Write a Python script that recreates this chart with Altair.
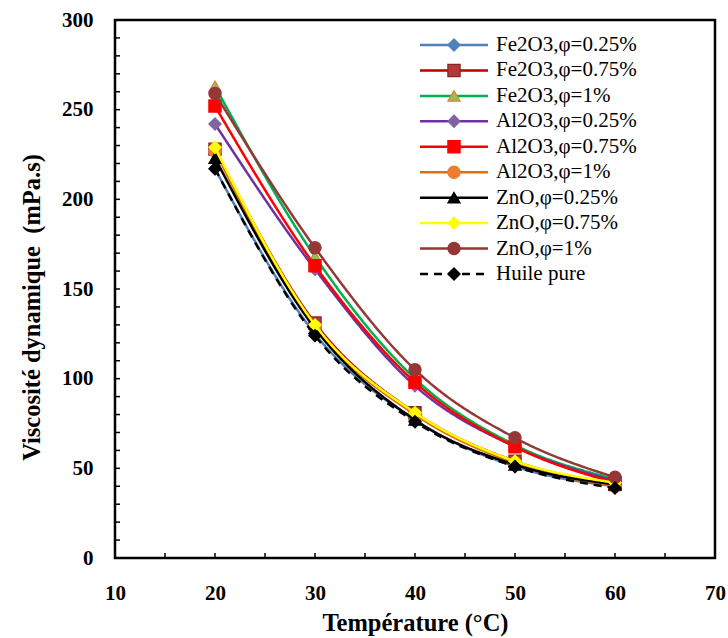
import altair as alt
import pandas as pd

# ---------------- data ----------------
temps = [20, 30, 40, 50, 60]
series = ["Fe2O3,φ=0.25%", "Fe2O3,φ=0.75%", "Fe2O3,φ=1%",
          "Al2O3,φ=0.25%", "Al2O3,φ=0.75%", "Al2O3,φ=1%",
          "ZnO,φ=0.25%", "ZnO,φ=0.75%", "ZnO,φ=1%", "Huile pure"]
fe2o3_025 = [217, 125, 77, 51, 40]
fe2o3_075 = [228, 131, 81, 54, 41]
fe2o3_1 = [263, 168, 100, 63, 44]
al2o3_025 = [242, 161, 96, 62, 43]
al2o3_075 = [252, 163, 98, 62, 42]
al2o3_1 = [227, 129, 80, 53, 40]
zno_025 = [223, 128, 77, 52, 41]
zno_075 = [229, 130, 81, 54, 42]
zno_1 = [259, 173, 105, 67, 45]
huile = [217, 124, 76, 51, 39]
values = [fe2o3_025, fe2o3_075, fe2o3_1, al2o3_025, al2o3_075, al2o3_1,
          zno_025, zno_075, zno_1, huile]

x_labels = [10, 20, 30, 40, 50, 60, 70]
y_labels = [0, 50, 100, 150, 200, 250, 300]
x_minor = [15, 20, 25, 30, 35, 40, 45, 50, 55, 60, 65]
y_minor = list(range(10, 300, 10))

# ---------------- styles ----------------
line_colors = ["#4F81BD", "#C00000", "#00B050", "#7030A0", "#FF0000",
               "#E46C0A", "#000000", "#FFFF00", "#953735", "#000000"]
fill_colors = ["#4F81BD", "#B33A3A", "#9BBB59", "#8064A2", "#FF0000",
               "#ED7D31", "#000000", "#FFFF00", "#953735", "#000000"]
stroke_colors = ["#4F81BD", "#8B2323", "#D9853B", "#8064A2", "#FF0000",
                 "#ED7D31", "#000000", "#FFFF00", "#953735", "#000000"]
shapes = ["diamond", "square", "triangle-up", "diamond", "square",
          "circle", "triangle-up", "diamond", "circle", "diamond"]
dashes = [[1, 0]] * 9 + [[8, 6]]

rows = []
for s, vals in zip(series, values):
    for t, v in zip(temps, vals):
        rows.append({"series": s, "T": t, "V": v})
df = pd.DataFrame(rows)
leg_df = pd.DataFrame({"series": series})
xt_df = pd.DataFrame({"T": x_minor})
yt_df = pd.DataFrame({"V": y_minor})

W, H = 600, 538
FONT = "Liberation Serif"

xs = alt.Scale(domain=[10, 70], nice=False)
ys = alt.Scale(domain=[0, 300], nice=False)
col_s = alt.Scale(domain=series, range=line_colors)
fill_s = alt.Scale(domain=series, range=fill_colors)
stroke_s = alt.Scale(domain=series, range=stroke_colors)
shape_s = alt.Scale(domain=series, range=shapes)
dash_s = alt.Scale(domain=series, range=dashes)

x_axis = alt.Axis(values=x_labels, grid=False, domain=False, labelFlush=False,
                  labelOverlap=False, ticks=False, tickSize=0, labelPadding=24,
                  labelFont=FONT, labelFontSize=21, labelFontWeight="bold",
                  labelColor="black", titleFont=FONT, titleFontSize=24.5,
                  titleFontWeight="bold", titleColor="black",
                  titleBaseline="alphabetic", titleY=72, titleX=W / 2,
                  titleAlign="center")
y_axis = alt.Axis(values=y_labels, grid=False, domain=False, labelFlush=False,
                  labelOverlap=False, ticks=False, tickSize=0, labelPadding=22,
                  labelFont=FONT, labelFontSize=21, labelFontWeight="bold",
                  labelColor="black", titleFont=FONT, titleFontSize=24.5,
                  titleFontWeight="bold", titleColor="black", titleAngle=-90,
                  titleBaseline="alphabetic", titleX=-76, titleY=287,
                  titleAlign="center")
X_TITLE = "Température (°C)"
Y_TITLE = "Viscosité dynamique\u00a0 (mPa.s)"


def xenc():
    return alt.X("T:Q", scale=xs, axis=x_axis, title=X_TITLE)


def yenc():
    return alt.Y("V:Q", scale=ys, axis=y_axis, title=Y_TITLE)


base = alt.Chart(df)
layers = []
for i, s in enumerate(series):
    sub = base.transform_filter(alt.datum.series == s)
    line = sub.mark_line(interpolate="monotone", strokeWidth=2.5).encode(
        x=xenc(), y=yenc(),
        color=alt.Color("series:N", scale=col_s, legend=None),
        strokeDash=alt.StrokeDash("series:N", scale=dash_s, legend=None),
    )
    pts = sub.mark_point(filled=True, size=150, opacity=1, strokeWidth=1.2).encode(
        x=xenc(), y=yenc(),
        fill=alt.Fill("series:N", scale=fill_s, legend=None),
        stroke=alt.Stroke("series:N", scale=stroke_s, legend=None),
        shape=alt.Shape("series:N", scale=shape_s, legend=None),
    )
    layers += [line, pts]

xticks = alt.Chart(xt_df).mark_rule(color="black", strokeWidth=1.5).encode(
    x=xenc(), y=alt.value(H), y2=alt.value(H - 5))
yticks = alt.Chart(yt_df).mark_rule(color="black", strokeWidth=1.5).encode(
    y=yenc(), x=alt.value(0), x2=alt.value(5))

main = alt.layer(xticks, yticks, *layers)

leg_y = alt.Y("series:N", scale=alt.Scale(type="point", domain=series, range=[25, 254],
                                          padding=0), axis=None)
lbase = alt.Chart(leg_df)
leg_line = lbase.mark_rule(strokeWidth=2.5).encode(
    y=leg_y, x=alt.value(305), x2=alt.value(373),
    color=alt.Color("series:N", scale=col_s, legend=None),
    strokeDash=alt.StrokeDash("series:N", scale=dash_s, legend=None))
leg_pts = lbase.mark_point(filled=True, size=150, opacity=1, strokeWidth=1.2).encode(
    y=leg_y, x=alt.value(339),
    fill=alt.Fill("series:N", scale=fill_s, legend=None),
    stroke=alt.Stroke("series:N", scale=stroke_s, legend=None),
    shape=alt.Shape("series:N", scale=shape_s, legend=None))
leg_txt = lbase.mark_text(align="left", baseline="middle", font=FONT, fontSize=21,
                          color="black").encode(
    y=leg_y, x=alt.value(381), text="series:N")
legend = alt.layer(leg_line, leg_pts, leg_txt)

chart = alt.layer(main, legend).resolve_scale(y="independent").properties(
    width=W, height=H,
    autosize=alt.AutoSizeParams(type="none"),
    padding={"left": 115, "top": 20, "right": 13, "bottom": 80},
    background="white",
).configure_view(stroke="black", strokeWidth=2.5)

chart.save("out.html", embed_options={"renderer": "svg", "actions": False})
